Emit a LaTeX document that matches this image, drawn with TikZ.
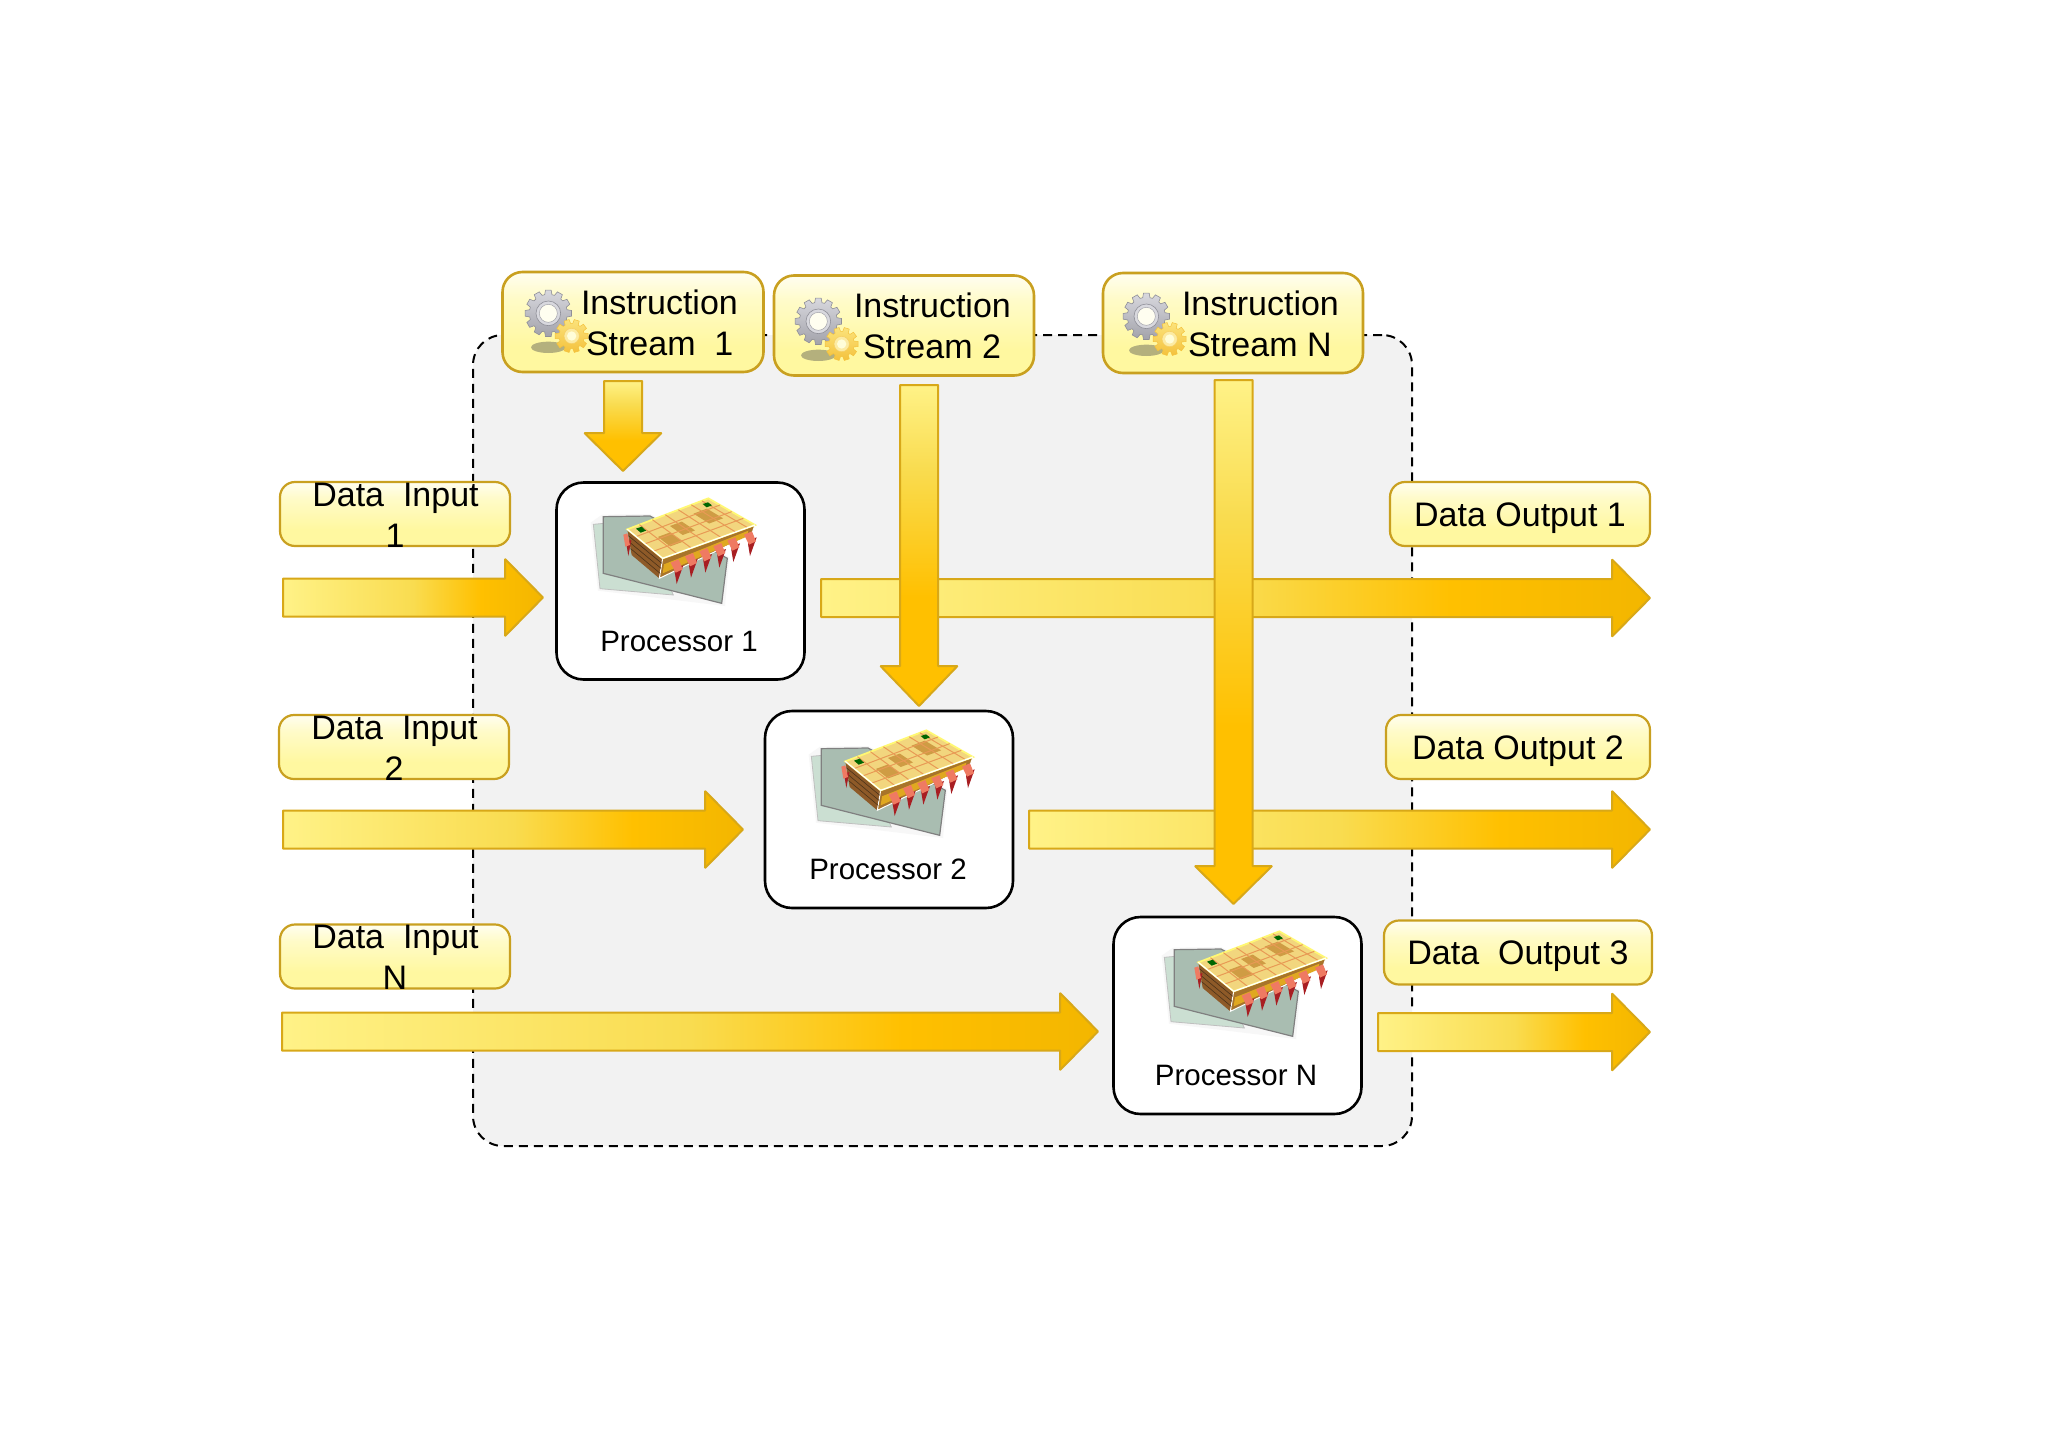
\documentclass[tikz,border=0pt]{standalone}
\usepackage{fontspec}
\setmainfont{Liberation Sans}
\usetikzlibrary{calc}
\definecolor{strokeY}{HTML}{C9A020}
\definecolor{strokeA}{HTML}{D8A818}
\definecolor{panel}{HTML}{F2F2F2}
\definecolor{c1}{HTML}{FFF287}
\definecolor{c2}{HTML}{F9DC50}
\definecolor{c3}{HTML}{FFC000}
\definecolor{c4}{HTML}{F3B600}
\definecolor{b0}{HTML}{FFFBC8}
\definecolor{b1}{HTML}{FFFEF0}
\definecolor{b2}{HTML}{FFF8A0}
\definecolor{chiptop}{HTML}{F2D67E}
\definecolor{chipgrid}{HTML}{E89A55}
\definecolor{chipsq}{HTML}{CF9C44}
\definecolor{sheetA}{HTML}{CBDFD2}
\definecolor{sheetB}{HTML}{A9BDB1}
\definecolor{sideL}{HTML}{8E5A28}
\definecolor{sideR}{HTML}{A8742A}
\definecolor{sideI}{HTML}{E0A820}
\definecolor{pinL}{HTML}{EF7A62}
\definecolor{pinD}{HTML}{A81E22}
\definecolor{gearT}{HTML}{D8D8DE}
\definecolor{gearB}{HTML}{A2A2AA}
\definecolor{gearS}{HTML}{8F8F98}
\definecolor{sgearT}{HTML}{FBE27C}
\definecolor{sgearB}{HTML}{F4C23C}
\definecolor{shadowG}{HTML}{A8A478}
\pgfdeclarehorizontalshading{harr}{100bp}{color(0bp)=(c1); color(25bp)=(c1); color(50bp)=(c2); color(63bp)=(c3); color(75bp)=(c4); color(100bp)=(c4)}
\pgfdeclareverticalshading{varr}{100bp}{color(0bp)=(c3); color(25bp)=(c3); color(42bp)=(c3); color(62bp)=(c2); color(75bp)=(c1); color(100bp)=(c1)}
\pgfdeclareverticalshading{boxs}{100bp}{color(0bp)=(b2); color(25bp)=(b2); color(38bp)=(b2); color(62bp)=(b0); color(75bp)=(b1); color(100bp)=(b1)}
\tikzset{
  insbox/.style={draw=strokeY,line width=2.6pt,rounded corners=20pt,shade,shading=boxs,inner sep=0pt,outer sep=0pt,minimum width=#1,minimum height=100pt},
  databox/.style={draw=strokeY,line width=2.2pt,rounded corners=15pt,shade,shading=boxs,inner sep=0pt,outer sep=0pt,minimum width=#1,minimum height=64pt},
  procbox/.style={draw=black,line width=2.6pt,rounded corners=27pt,fill=white,inner sep=0pt,outer sep=0pt,minimum width=248pt,minimum height=197pt},
  txt/.style={font=\fontsize{34}{40}\selectfont,inner sep=0pt,outer sep=0pt,text=black,anchor=base west},
  txtc/.style={txt,anchor=base},
  ptxt/.style={font=\fontsize{29.5}{34}\selectfont,inner sep=0pt,outer sep=0pt,text=black,anchor=base},
  harrow/.style={draw=strokeA,line width=2pt,shade,shading=harr,line join=bevel},
  varrow/.style={draw=strokeA,line width=2pt,shade,shading=varr,line join=bevel},
  chip/.pic={
    % back sheets
    \path[fill=black!3] (152,158) -- (174,362) -- (555,408) -- (568,262) -- (330,132) -- (186,134) -- cycle;
    \path[fill=sheetA,draw=black!25,line width=.8pt] (160,163) -- (180,356) -- (400,375) -- (300,150) -- cycle;
    \path[fill=sheetB,draw=black!50,line width=1.2pt] (190,140) -- (190,310) -- (545,400) -- (562,265) -- (330,138) -- cycle;
    % chip body
    \coordinate (A) at (262,178); \coordinate (B) at (505,85);
    \coordinate (C) at (645,165); \coordinate (D) at (368,265);
    \path[fill=sideL] (A) -- (D) -- (358,325) -- (275,255) -- cycle;
    \path[fill=sideR,draw=white,line width=1pt] (D) -- (C) -- (635,192) -- (358,325) -- cycle;
    \path[fill=sideI] (372,283) -- (625,182) -- (620,200) -- (368,310) -- cycle;
    \foreach \s in {.25,.5,.75}{\draw[black!60!brown,line width=.6pt] ($(A)!\s!(275,255)$) -- ($(D)!\s!(358,325)$);}
    \path[fill=chiptop,draw=yellow!55!white,line width=1.8pt] (A) -- (B) -- (C) -- (D) -- cycle;
    % darker squares
    \path[fill=chipsq] ($(A)!.38!(B)!.30!($(D)!.38!(C)$)$) -- ($(A)!.52!(B)!.30!($(D)!.52!(C)$)$) -- ($(A)!.52!(B)!.62!($(D)!.52!(C)$)$) -- ($(A)!.38!(B)!.62!($(D)!.38!(C)$)$) -- cycle;
    \path[fill=chipsq] ($(A)!.17!(B)!.45!($(D)!.17!(C)$)$) -- ($(A)!.31!(B)!.45!($(D)!.31!(C)$)$) -- ($(A)!.31!(B)!.78!($(D)!.31!(C)$)$) -- ($(A)!.17!(B)!.78!($(D)!.17!(C)$)$) -- cycle;
    \path[fill=chipsq] ($(A)!.70!(B)!.22!($(D)!.70!(C)$)$) -- ($(A)!.86!(B)!.22!($(D)!.86!(C)$)$) -- ($(A)!.86!(B)!.58!($(D)!.86!(C)$)$) -- ($(A)!.70!(B)!.58!($(D)!.70!(C)$)$) -- cycle;
    % grid
    \foreach \s in {.15,.31,.47,.63,.79,.92}{\draw[chipgrid,line width=1pt] ($(A)!\s!(B)$) -- ($(D)!\s!(C)$);}
    \foreach \s in {.25,.5,.75}{\draw[chipgrid,line width=1pt] ($(A)!\s!(D)$) -- ($(B)!\s!(C)$);}
    \path[fill=green!40!black] (288,176) -- (305,170) -- (318,182) -- (302,188) -- cycle;
    \path[fill=green!40!black] (488,102) -- (504,97) -- (516,106) -- (500,112) -- cycle;
    \draw[white,line width=1.2pt] (A) -- (D) -- (C);
    % pins
    \foreach \px/\py in {392/272,435/253,478/238,520/223,562/206,612/188}{
      \begin{scope}[shift={(\px,\py)}]
        \path[fill=pinD] (12,24) -- (38,14) -- (18,70) -- (12,34) -- cycle;
        \path[fill=pinL] (0,6) -- (24,-4) -- (36,26) -- (15,36) -- cycle;
      \end{scope}}
    \path[fill=pinD] (258,215) -- (274,210) -- (265,258) -- cycle;
    \path[fill=pinL] (250,194) -- (262,190) -- (270,225) -- (256,230) -- cycle;
  },
  gearpair/.pic={
    \path[fill=shadowG,opacity=.85] (205,292) ellipse (52 and 17);
    \begin{scope}[shift={(205,190)}]
      \path[draw=gearS,line width=.6pt,top color=gearT,bottom color=gearB]
        (-7:70) \foreach \a in {0,30,...,330}{ -- ({\a-7}:70) -- ({\a+7}:70) -- ({\a+11}:57) -- ({\a+19}:57)} -- cycle;
      \path[fill=gearT,draw=gearS,line width=.6pt] (0,0) circle (37);
      \path[fill=yellow!6!white,draw=gearB,line width=.5pt] (0,0) circle (27);
    \end{scope}
    \begin{scope}[shift={(275,258)}]
      \path[draw=sgearB,line width=.5pt,top color=sgearT,bottom color=sgearB]
        (-9:50) \foreach \a in {0,36,...,324}{ -- ({\a-9}:50) -- ({\a+9}:50) -- ({\a+13}:38) -- ({\a+23}:38)} -- cycle;
      \path[fill=sgearT!70!white,draw=sgearB!80!white,line width=.5pt] (0,0) circle (23);
      \path[fill=yellow!15!white] (0,0) circle (14);
    \end{scope}
  }
}
\newcommand{\HArr}[4]{%
  \coordinate (#1s) at (#2,#4); \coordinate (#1e) at (#3,#4);
  \path[harrow] ($(#1s)+(0,-19)$) -- ($(#1e)+(-38,-19)$) -- ($(#1e)+(-38,-38.5)$) -- (#1e) -- ($(#1e)+(-38,38.5)$) -- ($(#1e)+(-38,19)$) -- ($(#1s)+(0,19)$) -- cycle;}
\newcommand{\VArr}[5]{%
  \coordinate (#1s) at (#2,#3); \coordinate (#1e) at (#2,#4);
  \path[varrow] ($(#1s)+(-19,0)$) -- ($(#1e)+(-19,-#5)$) -- ($(#1e)+(-38.5,-#5)$) -- (#1e) -- ($(#1e)+(38.5,-#5)$) -- ($(#1e)+(19,-#5)$) -- ($(#1s)+(19,0)$) -- cycle;}
\begin{document}
\begin{tikzpicture}[x=1pt,y=-1pt]
\useasboundingbox (0,0) rectangle (2048,1448);
\fill[white] (0,0) rectangle (2048,1448);
% container
\node[draw=black,dash pattern=on 9pt off 6pt,line width=2pt,fill=panel,rounded corners=30pt,inner sep=0pt,outer sep=0pt,minimum width=939pt,minimum height=811pt] (panel) at (942.5,740.5) {};
% processors
\node[procbox] (p1) at (680.5,581) {};
\node[procbox] (p2) at (889,809.5) {};
\node[procbox] (pN) at (1237.5,1015.5) {};
\pic[scale=1/3] at (540,470) {chip};
\pic[scale=1/3] at (758,702) {chip};
\pic[scale=1/3] at (1111,903) {chip};
\node[ptxt] (p1t) at (679,651) {Processor 1};
\node[ptxt] (p2t) at (888,879) {Processor 2};
\node[ptxt] (pNt) at (1236,1085) {Processor N};
% data flow arrows
\HArr{in1}{283}{543}{597.5}
\HArr{in2}{283}{743}{829.5}
\HArr{inN}{282}{1098}{1031.5}
\HArr{out1}{821}{1650}{598}
\HArr{out2}{1029}{1650}{829.5}
\HArr{out3}{1378}{1650}{1032}
% instruction arrows
\VArr{v1}{623}{381}{471}{38}
\VArr{v2}{919}{385}{706}{40}
\VArr{vN}{1233.5}{380}{904}{38}
% instruction boxes
\node[insbox=261pt] (ins1) at (633,322) {};
\node[insbox=260pt] (ins2) at (904,325.5) {};
\node[insbox=260pt] (insN) at (1233,323) {};
\pic[scale=1/3] at (480,250) {gearpair};
\pic[scale=1/3] at (750,258) {gearpair};
\pic[scale=1/3] at (1078,253) {gearpair};
\node[txt] (i1a) at (581,314.5) {Instruction};
\node[txt] (i1b) at (586,355.5) {Stream\ \ 1};
\node[txt] (i2a) at (854,317.5) {Instruction};
\node[txt] (i2b) at (863,358.5) {Stream 2};
\node[txt] (iNa) at (1182,315.5) {Instruction};
\node[txt] (iNb) at (1188,356.5) {Stream N};
% data boxes
\node[databox=230pt] (di1) at (395,514) {};
\node[databox=230pt] (di2) at (394,747) {};
\node[databox=230pt] (diN) at (395,956.5) {};
\node[databox=260pt] (do1) at (1520,514) {};
\node[databox=264pt] (do2) at (1518,747) {};
\node[databox=268pt] (do3) at (1518,952.5) {};
\node[txtc] (di1a) at (395.5,506.5) {Data\ \ Input};
\node[txtc] (di1b) at (395,547) {1};
\node[txtc] (di2a) at (394.5,739.5) {Data\ \ Input};
\node[txtc] (di2b) at (394,780) {2};
\node[txtc] (diNa) at (395.5,948.5) {Data\ \ Input};
\node[txtc] (diNb) at (395,989) {N};
\node[txtc] (do1t) at (1520,526) {Data Output 1};
\node[txtc] (do2t) at (1518,759) {Data Output 2};
\node[txtc] (do3t) at (1518,964.5) {Data\ \ Output 3};
\end{tikzpicture}
\end{document}
